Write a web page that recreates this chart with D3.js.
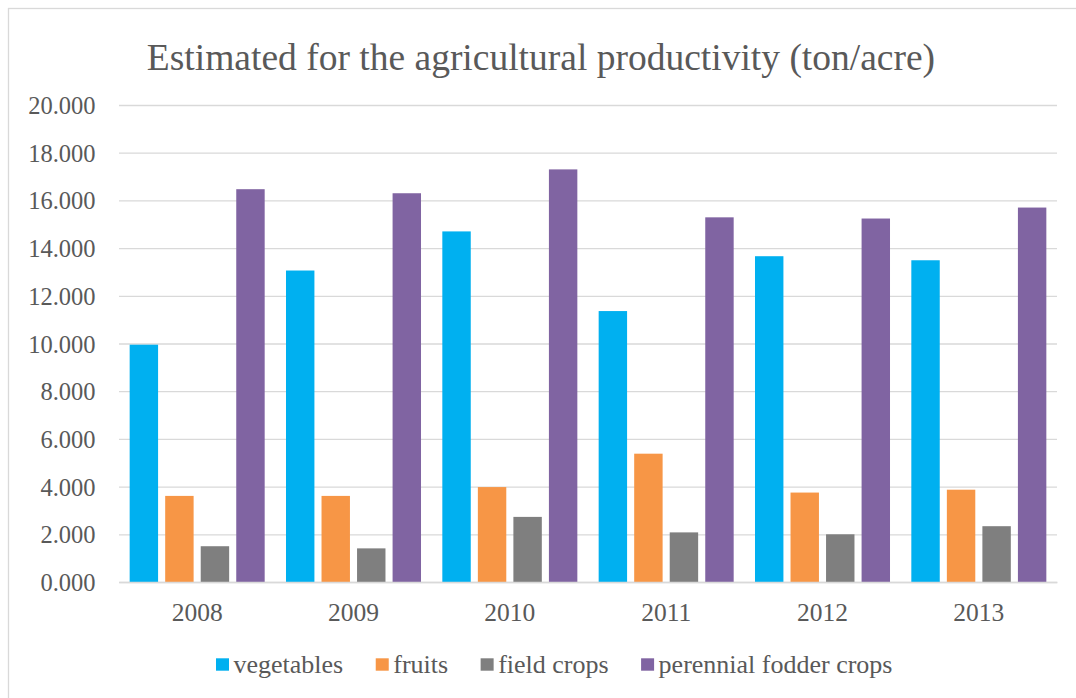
<!DOCTYPE html>
<html>
<head>
<meta charset="utf-8">
<script src="https://cdn.jsdelivr.net/npm/d3@7"></script>
<style>
  html, body { margin: 0; padding: 0; background: #ffffff; }
  svg { display: block; }
</style>
</head>
<body>
<svg id="chart" width="1076" height="698"></svg>
<script>
// Agricultural productivity per year (ton/acre)
const years = ["2008", "2009", "2010", "2011", "2012", "2013"];
const seriesNames = ["vegetables", "fruits", "field crops", "perennial fodder crops"];
const vegetables = [9.95, 13.06, 14.70, 11.36, 13.66, 13.49];
const fruits = [3.61, 3.61, 3.98, 5.38, 3.75, 3.87];
const fieldCrops = [1.50, 1.41, 2.73, 2.08, 2.00, 2.34];
const perennialFodder = [16.47, 16.30, 17.30, 15.29, 15.24, 15.70];
const seriesColors = ["#00B0F0", "#F79646", "#7F7F7F", "#8064A2"];
const yTicks = [0, 2, 4, 6, 8, 10, 12, 14, 16, 18, 20];
const titleText = "Estimated for the agricultural productivity (ton/acre)";

const FONT = '"Liberation Serif", "Times New Roman", serif';
const TEXT_COLOR = "#595959";

const seriesValues = [vegetables, fruits, fieldCrops, perennialFodder];
const rows = years.map((yr, i) => ({
  year: yr,
  values: seriesNames.map((s, j) => ({ key: s, value: seriesValues[j][i], color: seriesColors[j] }))
}));

const svg = d3.select("#chart");

// outer chart frame
svg.append("rect")
  .attr("x", 8.5).attr("y", 8.5)
  .attr("width", 1100).attr("height", 720)
  .attr("fill", "none")
  .attr("stroke", "#d9d9d9")
  .attr("stroke-width", 1.3);

const plot = { left: 119, right: 1057, top: 105, bottom: 582 };

const x0 = d3.scaleBand().domain(years).range([plot.left, plot.right]).padding(0);
const x1 = d3.scaleBand().domain(seriesNames).range([0, x0.bandwidth()])
  .paddingInner(0.2).paddingOuter(0.3);
const y = d3.scaleLinear().domain([0, 20]).range([plot.bottom, plot.top]);

// title
svg.append("text")
  .attr("x", 541).attr("y", 70)
  .attr("text-anchor", "middle")
  .style("font-family", FONT)
  .style("font-size", "37.5px")
  .style("fill", TEXT_COLOR)
  .text(titleText);

// y axis with gridlines
const yAxis = svg.append("g")
  .attr("transform", `translate(${plot.left},0)`)
  .call(d3.axisLeft(y).tickValues(yTicks).tickFormat(d3.format(".3f"))
    .tickSize(-(plot.right - plot.left)).tickPadding(23.5));
yAxis.select(".domain").remove();
yAxis.selectAll(".tick line").attr("stroke", "#d9d9d9").attr("stroke-width", 1.3);
yAxis.selectAll(".tick text")
  .style("font-family", FONT)
  .style("font-size", "24.5px")
  .attr("dy", null)
  .attr("dominant-baseline", "central")
  .style("fill", TEXT_COLOR);

// bars
const groups = svg.append("g").selectAll("g")
  .data(rows).join("g")
  .attr("transform", d => `translate(${x0(d.year)},0)`);
groups.selectAll("rect")
  .data(d => d.values).join("rect")
  .attr("x", d => x1(d.key))
  .attr("width", x1.bandwidth())
  .attr("y", d => y(d.value))
  .attr("height", d => y(0) - y(d.value))
  .attr("fill", d => d.color);

// x axis
const xAxis = svg.append("g")
  .attr("transform", `translate(0,${plot.bottom})`)
  .call(d3.axisBottom(x0).tickSize(0).tickPadding(21));
xAxis.select(".domain").attr("stroke", "#d9d9d9").attr("stroke-width", 1.3);
xAxis.selectAll(".tick text")
  .style("font-family", FONT)
  .style("font-size", "25.5px")
  .style("fill", TEXT_COLOR);

// legend
const legend = svg.append("g").attr("class", "legend");
let lx = 216;
seriesNames.forEach((name, i) => {
  legend.append("rect")
    .attr("x", lx).attr("y", 658.3)
    .attr("width", 13).attr("height", 12.4)
    .attr("fill", seriesColors[i]);
  const t = legend.append("text")
    .attr("x", lx + 17.5).attr("y", 672.7)
    .style("font-family", FONT)
    .style("font-size", "26px")
    .style("fill", TEXT_COLOR)
    .text(name);
  lx += 17.5 + t.node().getComputedTextLength() + 32.5;
});
</script>
</body>
</html>
